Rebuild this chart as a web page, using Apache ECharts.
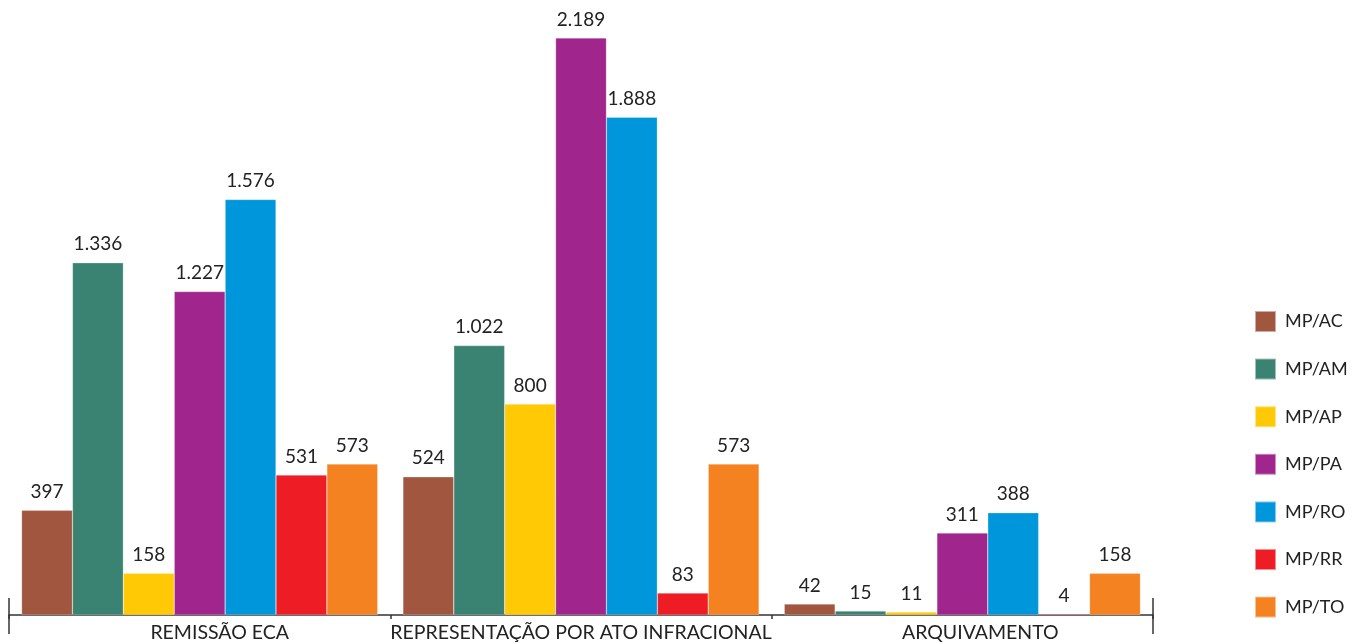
<!DOCTYPE html>
<html><head><meta charset="utf-8">
<script src="https://cdn.jsdelivr.net/npm/echarts@6/dist/echarts.min.js"></script>
<style>html,body{margin:0;padding:0;background:#fff}#c{width:1353px;height:644px}</style>
</head><body><div id="c"></div>
<script>
const categories = ['REMISSÃO ECA', 'REPRESENTAÇÃO POR ATO INFRACIONAL', 'ARQUIVAMENTO'];
const seriesNames = ['MP/AC', 'MP/AM', 'MP/AP', 'MP/PA', 'MP/RO', 'MP/RR', 'MP/TO'];
const mpAC = [397, 524, 42];
const mpAM = [1336, 1022, 15];
const mpAP = [158, 800, 11];
const mpPA = [1227, 2189, 311];
const mpRO = [1576, 1888, 388];
const mpRR = [531, 83, 4];
const mpTO = [573, 573, 158];
const colors = ['#A0563F', '#3A8272', '#FFC905', '#A0258C', '#0096DB', '#EE1D25', '#F58220'];
const allData = [mpAC, mpAM, mpAP, mpPA, mpRO, mpRR, mpTO];
const FONT = 'Lato';
const labelShift = [40, 0, 36];

const chart = echarts.init(document.getElementById('c'));
const fmt = v => String(v).replace(/\B(?=(\d{3})+(?!\d))/g, '.');
const option = {
  animation: false,
  textStyle: { fontFamily: FONT },
  grid: { left: 9, right: 200, top: 35, bottom: 29 },
  legend: {
    orient: 'vertical', left: 1254, top: 310, padding: 0,
    itemWidth: 21, itemHeight: 21, itemGap: 24.6,
    icon: 'rect',
    textStyle: { fontFamily: FONT, fontSize: 18, color: '#222', padding: [0, 0, 0, 4] },
    data: seriesNames
  },
  xAxis: {
    type: 'category',
    data: categories.map((c, i) => ({ value: c, textStyle: { padding: [0, 0, 0, labelShift[i]] } })),
    axisLine: { lineStyle: { color: '#333', width: 1.5 } },
    axisTick: { show: true, length: 4, lineStyle: { color: '#333', width: 1.5 } },
    axisLabel: { fontFamily: FONT, fontSize: 19.5, color: '#222', margin: 8, interval: 0 }
  },
  yAxis: { type: 'value', min: 0, max: 2200, show: false, splitLine: { show: false } },
  series: seriesNames.map((n, i) => ({
    name: n, type: 'bar', data: allData[i],
    barGap: '0%', barCategoryGap: '6.6%',
    itemStyle: { color: colors[i], borderColor: 'rgba(255,255,255,0.5)', borderWidth: 0.5 },
    label: { show: true, position: 'top', distance: 9, fontFamily: FONT, fontSize: 19, color: '#222', formatter: p => fmt(p.value) }
  }))
};
chart.setOption(option);
const x0 = chart.convertToPixel({ gridIndex: 0 }, [0, 0]);
const base = x0[1];
const left = 9, right = 1353 - 200;
chart.setOption({
  graphic: [
    { type: 'line', shape: { x1: left, y1: base - 17, x2: left, y2: base + 19 }, style: { stroke: '#333', lineWidth: 1.5 } },
    { type: 'line', shape: { x1: right, y1: base - 17, x2: right, y2: base + 19 }, style: { stroke: '#333', lineWidth: 1.5 } }
  ]
});
</script></body></html>
